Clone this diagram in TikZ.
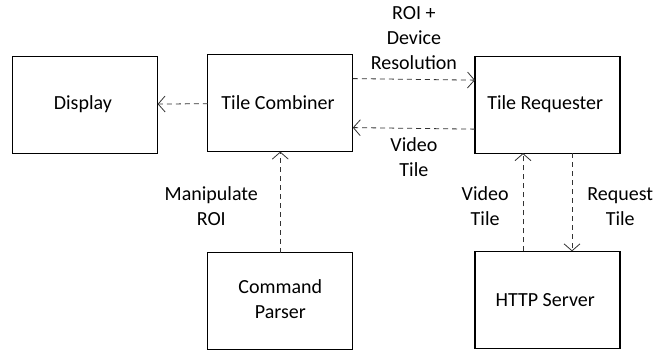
\documentclass[tikz,border=0pt]{standalone}
\usepackage{fontspec}
\setmainfont{Carlito}
\usetikzlibrary{matrix,arrows.meta}

\newcommand{\cmdparser}{\begin{tabular}{@{}c@{}}Command\\Parser\end{tabular}}

\tikzset{
  block/.style={draw, line width=1.2pt, minimum width=145pt, minimum height=97pt,
    align=center, inner sep=2pt},
  flow/.style={->, dashed, color=black!80, line width=0.8pt,
    dash pattern=on 5pt off 4pt},
  lbl/.style={align=center, inner sep=2pt, text=black}
}

\begin{document}
\begin{tikzpicture}[x=1pt, y=-1pt, >={Straight Barb[length=7pt,width=16pt]},
    font=\fontsize{20}{25}\selectfont]
  \useasboundingbox (0,0) rectangle (653,350);
  \matrix (m) [matrix of nodes, nodes={block}, row sep=97pt, column sep=49pt,
    inner sep=0pt, outer sep=0pt, anchor=north west] at (12,54)
  {
    Display & Tile Combiner &[72pt] Tile Requester \\
            & \cmdparser & HTTP Server \\ };
%  top row
  \path[flow]
  (m-1-2) edge (m-1-1)
  ([yshift=24.5pt]m-1-2.east) edge node [lbl, above=7pt] {ROI +\\Device\\Resolution} ([yshift=24.5pt]m-1-3.west)
  ([yshift=-24.5pt]m-1-3.west) edge node [lbl, below=7pt] {Video\\Tile} ([yshift=-24.5pt]m-1-2.east)
%  up and down
  (m-2-2) edge node [lbl, left=20pt, yshift=-4pt] {Manipulate\\ROI} (m-1-2)
  ([xshift=-24.5pt]m-2-3.north) edge node [lbl, left=12pt, yshift=-4pt] {Video\\Tile} ([xshift=-24.5pt]m-1-3.south)
  ([xshift=24.5pt]m-1-3.south) edge node [lbl, right=13pt, yshift=-4pt] {Request\\Tile} ([xshift=24.5pt]m-2-3.north);
\end{tikzpicture}
\end{document}
